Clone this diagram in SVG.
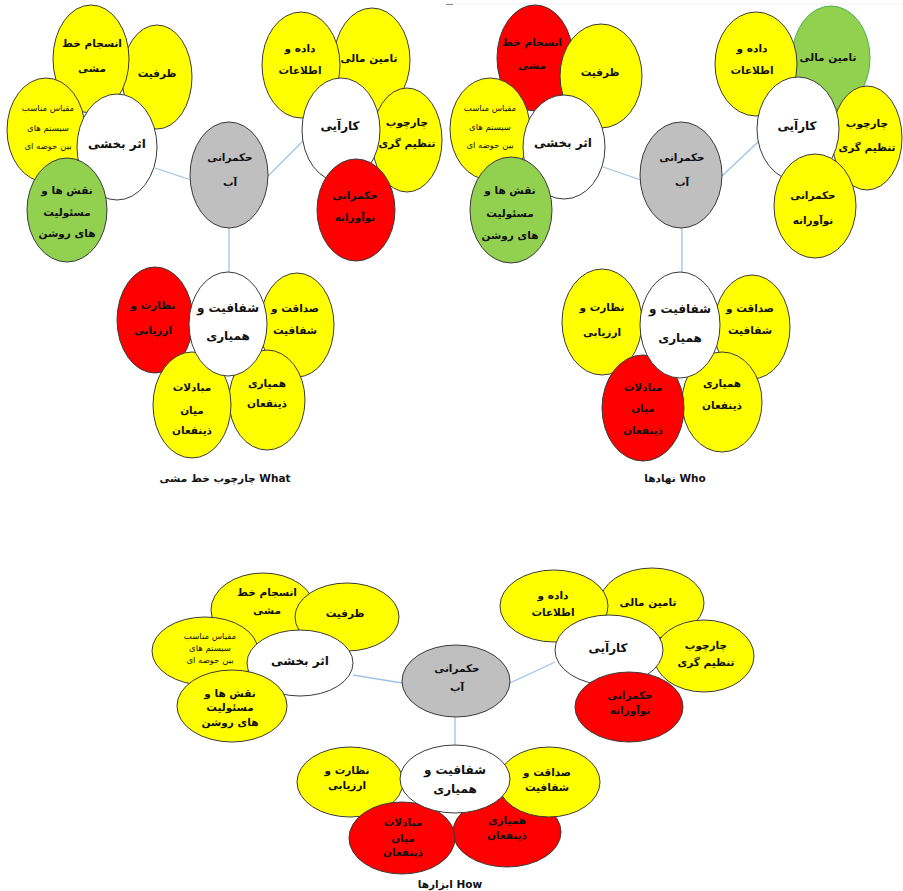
<svg xmlns="http://www.w3.org/2000/svg" width="903" height="891" viewBox="0 0 903 891">
<style>
text{font-family:"DejaVu Sans",sans-serif;font-weight:bold;font-size:10.5px;fill:#111;text-anchor:middle}
.c{font-size:12px;font-weight:bold}
.s{font-size:8.5px;font-weight:normal}
.cap{font-size:10.5px}
.w{letter-spacing:1px}
ellipse{stroke:#3a3a3a;stroke-width:1}
.y{fill:#ffff00}
.r{fill:#ff0000}
.g{fill:#92d050}
.gr{fill:#bfbfbf}
.wh{fill:#ffffff}
.gs{stroke:#4caf50}
.conn line{stroke:#9dc3e6;stroke-width:1.3}
</style>
<rect width="903" height="891" fill="#fff"/>
<line x1="448" y1="4" x2="903" y2="4" stroke="#efefef" stroke-width="1"/>
<line x1="446" y1="4.5" x2="453" y2="4.5" stroke="#888" stroke-width="1"/>
<g id="connectors" class="conn">
<line x1="155" y1="168" x2="191" y2="180"/>
<line x1="268" y1="176" x2="303" y2="141"/>
<line x1="229" y1="228" x2="229" y2="272"/>
<line x1="603" y1="167" x2="641" y2="180"/>
<line x1="722" y1="176" x2="758" y2="142"/>
<line x1="682" y1="228" x2="682" y2="272"/>
<line x1="353" y1="675" x2="402" y2="683"/>
<line x1="510" y1="683" x2="555" y2="662"/>
<line x1="455" y1="717" x2="455" y2="747"/>
</g>

<!-- Diagram 1: What -->
<g id="d1-zarfiyat"><ellipse class="y" cx="157" cy="77" rx="35" ry="52"/><text x="157" y="77">ظرفیت</text></g>
<g id="d1-ensejam"><ellipse class="y" cx="91" cy="59" rx="38" ry="54"/><text x="92" y="47">انسجام خط</text><text x="92" y="72">مشی</text></g>
<g id="d1-meghyas"><ellipse class="y" cx="46" cy="130" rx="39" ry="52"/><text class="s" x="48" y="111">مقیاس مناسب</text><text class="s" x="48" y="131">سیستم های</text><text class="s" x="48" y="149">بین حوضه ای</text></g>
<g id="d1-asar"><ellipse class="wh" cx="117" cy="147" rx="40" ry="53"/><text class="c" x="117" y="148">اثر بخشی</text></g>
<g id="d1-naghsh"><ellipse class="g" cx="67" cy="210" rx="40" ry="52"/><text x="67" y="194">نقش ها و</text><text x="67" y="216">مسئولیت</text><text x="67" y="237">های روشن</text></g>
<g id="d1-hokm"><ellipse class="gr" cx="229" cy="175" rx="39" ry="53"/><text x="230" y="161">حکمرانی</text><text x="230" y="186">آب</text></g>
<g id="d1-tamin"><ellipse class="y" cx="372" cy="60" rx="38" ry="52"/><text x="369" y="62">تامین مالی</text></g>
<g id="d1-dade"><ellipse class="y" cx="301" cy="65" rx="39" ry="53"/><text x="300" y="52">داده و</text><text x="300" y="74">اطلاعات</text></g>
<g id="d1-charchoob"><ellipse class="y" cx="407" cy="140" rx="35" ry="52"/><text x="407" y="126">چارچوب</text><text x="407" y="147">تنظیم گری</text></g>
<g id="d1-karaei"><ellipse class="wh" cx="341" cy="130" rx="39" ry="52"/><text class="c" x="340" y="130">کارآیی</text></g>
<g id="d1-noavar"><ellipse class="r" cx="356" cy="210" rx="39" ry="51"/><text x="355" y="199">حکمرانی</text><text x="355" y="221">نوآورانه</text></g>
<g id="d1-nezarat"><ellipse class="r" cx="155" cy="320" rx="38" ry="53"/><text x="153" y="309">نظارت و</text><text x="153" y="334">ارزیابی</text></g>
<g id="d1-sedaghat"><ellipse class="y" cx="297" cy="325" rx="37" ry="52"/><text x="295" y="312">صداقت و</text><text x="295" y="334">شفافیت</text></g>
<g id="d1-hamyari"><ellipse class="y" cx="267" cy="400" rx="38" ry="50"/><text x="267" y="387">همیاری</text><text x="267" y="407">ذینفعان</text></g>
<g id="d1-mobadelat"><ellipse class="y" cx="192" cy="405" rx="39" ry="53"/><text x="192" y="391">مبادلات</text><text x="192" y="414">میان</text><text x="192" y="434">ذینفعان</text></g>
<g id="d1-shafafiyat"><ellipse class="wh" cx="228" cy="324" rx="39" ry="52"/><text class="c" x="228" y="312">شفافیت و</text><text class="c" x="228" y="340">همیاری</text></g>
<text class="cap" x="225" y="482">چارچوب خط مشی What</text>

<!-- Diagram 2: Who -->
<g id="d2-ensejam"><ellipse class="r" cx="535" cy="58" rx="38" ry="53"/><text x="532" y="46">انسجام خط</text><text x="532" y="69">مشی</text></g>
<g id="d2-zarfiyat"><ellipse class="y" cx="601" cy="76" rx="41" ry="52"/><text x="600" y="76">ظرفیت</text></g>
<g id="d2-meghyas"><ellipse class="y" cx="490" cy="129" rx="40" ry="51"/><text class="s" x="490" y="111">مقیاس مناسب</text><text class="s" x="490" y="130">سیستم های</text><text class="s" x="490" y="148">بین حوضه ای</text></g>
<g id="d2-asar"><ellipse class="wh" cx="564" cy="147" rx="41" ry="52"/><text class="c" x="563" y="147">اثر بخشی</text></g>
<g id="d2-naghsh"><ellipse class="g" cx="511" cy="210" rx="41" ry="53"/><text x="510" y="194">نقش ها و</text><text x="510" y="217">مسئولیت</text><text x="510" y="239">های روشن</text></g>
<g id="d2-hokm"><ellipse class="gr" cx="681" cy="175" rx="41" ry="53"/><text x="682" y="161">حکمرانی</text><text x="682" y="186">آب</text></g>
<g id="d2-tamin"><ellipse class="g gs" cx="831" cy="58" rx="39" ry="52"/><text x="828" y="61">تامین مالی</text></g>
<g id="d2-dade"><ellipse class="y" cx="756" cy="64" rx="41" ry="52"/><text x="752" y="52">داده و</text><text x="752" y="74">اطلاعات</text></g>
<g id="d2-charchoob"><ellipse class="y" cx="867" cy="138" rx="35" ry="52"/><text x="867" y="127">چارچوب</text><text x="867" y="151">تنظیم گری</text></g>
<g id="d2-karaei"><ellipse class="wh" cx="798" cy="129" rx="41" ry="52"/><text class="c" x="797" y="130">کارآیی</text></g>
<g id="d2-noavar"><ellipse class="y" cx="815" cy="206" rx="41" ry="52"/><text x="813" y="199">حکمرانی</text><text x="813" y="224">نوآورانه</text></g>
<g id="d2-nezarat"><ellipse class="y" cx="602" cy="322" rx="40" ry="53"/><text x="602" y="311">نظارت و</text><text x="602" y="336">ارزیابی</text></g>
<g id="d2-sedaghat"><ellipse class="y" cx="752" cy="327" rx="38" ry="52"/><text x="750" y="312">صداقت و</text><text x="750" y="334">شفافیت</text></g>
<g id="d2-hamyari"><ellipse class="y" cx="722" cy="402" rx="40" ry="50"/><text x="722" y="387">همیاری</text><text x="722" y="409">ذینفعان</text></g>
<g id="d2-mobadelat"><ellipse class="r" cx="643" cy="408" rx="41" ry="53"/><text x="643" y="391">مبادلات</text><text x="643" y="412">میان</text><text x="643" y="434">ذینفعان</text></g>
<g id="d2-shafafiyat"><ellipse class="wh" cx="680" cy="325" rx="40" ry="53"/><text class="c" x="680" y="313">شفافیت و</text><text class="c" x="680" y="342">همیاری</text></g>
<text class="cap" x="675" y="482">نهادها Who</text>

<!-- Diagram 3: How -->
<g id="d3-ensejam"><ellipse class="y" cx="263" cy="610" rx="52" ry="37"/><text class="w" x="267" y="596">انسجام خط</text><text class="w" x="267" y="614">مشی</text></g>
<g id="d3-zarfiyat"><ellipse class="y" cx="347" cy="617" rx="52" ry="34"/><text class="w" x="345" y="617">ظرفیت</text></g>
<g id="d3-meghyas"><ellipse class="y" cx="205" cy="651" rx="53" ry="34"/><text class="s w" x="210" y="639">مقیاس مناسب</text><text class="s w" x="210" y="651">سیستم های</text><text class="s w" x="210" y="663">بین حوضه ای</text></g>
<g id="d3-asar"><ellipse class="wh" cx="300" cy="663" rx="53" ry="33"/><text class="c w" x="300" y="665">اثر بخشی</text></g>
<g id="d3-naghsh"><ellipse class="y" cx="232" cy="706" rx="55" ry="36"/><text class="w" x="230" y="697">نقش ها و</text><text class="w" x="230" y="711">مسئولیت</text><text class="w" x="230" y="726">های روشن</text></g>
<g id="d3-hokm"><ellipse class="gr" cx="456" cy="681" rx="54" ry="36"/><text class="w" x="457" y="672">حکمرانی</text><text class="w" x="457" y="691">آب</text></g>
<g id="d3-tamin"><ellipse class="y" cx="652" cy="603" rx="52" ry="35" stroke="#7fcf7f"/><text class="w" x="648" y="606">تامین مالی</text></g>
<g id="d3-dade"><ellipse class="y" cx="554" cy="606" rx="54" ry="36"/><text class="w" x="553" y="599">داده و</text><text class="w" x="553" y="616">اطلاعات</text></g>
<g id="d3-charchoob"><ellipse class="y" cx="704" cy="656" rx="50" ry="36"/><text class="w" x="706" y="649">چارچوب</text><text class="w" x="706" y="666">تنظیم گری</text></g>
<g id="d3-karaei"><ellipse class="wh" cx="609" cy="650" rx="54" ry="35"/><text class="c w" x="608" y="652">کارآیی</text></g>
<g id="d3-noavar"><ellipse class="r" cx="629" cy="707" rx="54" ry="35"/><text class="w" x="630" y="699">حکمرانی</text><text class="w" x="630" y="714">نوآورانه</text></g>
<g id="d3-hamyari"><ellipse class="r" cx="507" cy="832" rx="54" ry="35"/><text class="w" x="507" y="824">همیاری</text><text class="w" x="507" y="839">ذینفعان</text></g>
<g id="d3-sedaghat"><ellipse class="y" cx="549" cy="782" rx="51" ry="35"/><text class="w" x="547" y="776">صداقت و</text><text class="w" x="547" y="791">شفافیت</text></g>
<g id="d3-nezarat"><ellipse class="y" cx="350" cy="782" rx="53" ry="35"/><text class="w" x="347" y="774">نظارت و</text><text class="w" x="347" y="789">ارزیابی</text></g>
<g id="d3-mobadelat"><ellipse class="r" cx="402" cy="838" rx="53" ry="36"/><text class="w" x="403" y="826">مبادلات</text><text class="w" x="403" y="842">میان</text><text class="w" x="403" y="856">ذینفعان</text></g>
<g id="d3-shafafiyat"><ellipse class="wh" cx="455" cy="779" rx="55" ry="34"/><text class="c w" x="455" y="774">شفافیت و</text><text class="c w" x="455" y="793">همیاری</text></g>
<text class="cap" x="450" y="888">ابزارها How</text>
</svg>
